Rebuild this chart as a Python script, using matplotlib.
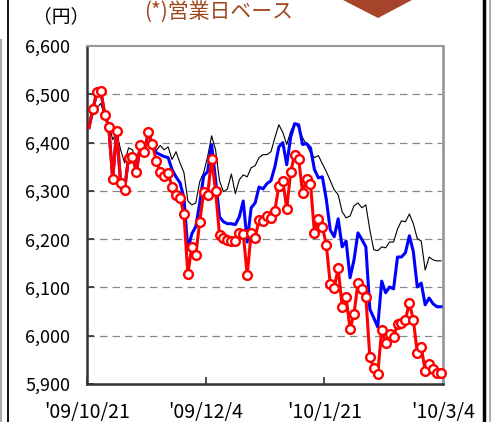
import matplotlib
matplotlib.use('Agg')
import matplotlib.pyplot as plt
from matplotlib.patches import Polygon
from matplotlib.lines import Line2D
from matplotlib.ticker import FuncFormatter

plt.rcParams['font.family'] = ['Noto Sans CJK JP', 'DejaVu Sans']

# 営業日ベースの価格（円）
red_vals = [6431, 6470, 6504, 6506, 6458, 6433, 6325, 6425, 6317, 6302,
            6369, 6371, 6340, 6396, 6381, 6421, 6398, 6362, 6340, 6331,
            6336, 6309, 6292, 6286, 6252, 6128, 6184, 6167, 6236, 6298,
            6292, 6367, 6300, 6209, 6203, 6199, 6197, 6197, 6213, 6211,
            6126, 6213, 6203, 6240, 6238, 6248, 6244, 6259, 6311, 6321,
            6263, 6340, 6375, 6367, 6296, 6325, 6315, 6213, 6242, 6226,
            6188, 6107, 6099, 6140, 6060, 6080, 6014, 6045, 6109, 6097,
            6080, 5956, 5933, 5921, 6012, 5985, 6004, 5997, 6024, 6026,
            6033, 6068, 6033, 5964, 5977, 5927, 5941, 5931, 5923, 5923]

blue_vals = [6431, 6470, 6504, 6506, 6458, 6433, 6325, 6425, 6317, 6302,
             6369, 6371, 6340, 6396, 6381, 6421, 6398, 6379, 6375, 6371,
             6369, 6344, 6329, 6317, 6286, 6178, 6211, 6226, 6275, 6331,
             6340, 6396, 6323, 6246, 6236, 6232, 6232, 6230, 6246, 6279,
             6194, 6265, 6275, 6308, 6304, 6315, 6321, 6350, 6391, 6400,
             6354, 6412, 6439, 6437, 6396, 6398, 6389, 6344, 6327, 6329,
             6282, 6219, 6205, 6242, 6184, 6196, 6120, 6157, 6213, 6199,
             6184, 6055, 6037, 6018, 6113, 6089, 6101, 6097, 6163, 6163,
             6172, 6207, 6174, 6101, 6109, 6064, 6078, 6066, 6060, 6060]

black_vals = [6431, 6458, 6472, 6481, 6454, 6439, 6406, 6421, 6385, 6358,
              6389, 6385, 6360, 6394, 6387, 6421, 6400, 6383, 6394, 6385,
              6391, 6365, 6381, 6358, 6338, 6279, 6271, 6275, 6319, 6338,
              6371, 6414, 6385, 6321, 6298, 6304, 6335, 6294, 6323, 6333,
              6329, 6348, 6352, 6369, 6375, 6375, 6381, 6410, 6437, 6421,
              6396, 6423, 6441, 6431, 6410, 6396, 6379, 6369, 6373, 6356,
              6340, 6321, 6302, 6292, 6257, 6244, 6248, 6269, 6275, 6265,
              6271, 6219, 6178, 6176, 6184, 6182, 6194, 6194, 6221, 6238,
              6236, 6252, 6232, 6201, 6196, 6136, 6163, 6157, 6155, 6155]

date_labels = ["'09/10/21", "'09/12/4", "'10/1/21", "'10/3/4"]
date_pos = [-0.5, 29.5, 59.5, 89.5]
y_ticks = [5900, 6000, 6100, 6200, 6300, 6400, 6500, 6600]

fig = plt.figure(figsize=(4.91, 4.22), dpi=100)
ax = fig.add_axes([87 / 491, 1 - 384 / 422, 356 / 491, 338 / 422])

x = list(range(len(red_vals)))
ax.plot(x, black_vals, color='black', lw=0.8, zorder=3)
ax.plot(x, blue_vals, color='#0000FF', lw=2.2, zorder=4)
ax.plot(x, red_vals, color='#FF0000', lw=2.2, marker='o', ms=6.3,
        mfc='white', mec='#FF0000', mew=1.7, zorder=5, clip_on=False,
        markevery=list(range(1, len(red_vals))))

ax.set_xlim(-0.5, 89.5)
ax.set_ylim(5900, 6600)
ax.set_yticks(y_ticks)
ax.yaxis.set_major_formatter(FuncFormatter(lambda v, p: f'{int(v):,}'))
ax.set_xticks(date_pos)
ax.set_xticklabels(date_labels)

for v in y_ticks[1:-1]:
    ax.axhline(v, color='#888888', lw=0.9, ls=(0, (6, 4)), zorder=1)

ax.tick_params(axis='both', direction='in', length=5, width=1.2,
               colors='#333333', labelcolor='black')
ax.tick_params(axis='y', pad=12, labelsize=13)
ax.tick_params(axis='x', pad=13, labelsize=14)

ax.spines['left'].set_color('#333333')
ax.spines['left'].set_linewidth(1.8)
ax.spines['bottom'].set_color('#333333')
ax.spines['bottom'].set_linewidth(1.8)
ax.spines['top'].set_color('#999999')
ax.spines['top'].set_linewidth(1.5)
ax.spines['right'].set_color('#999999')
ax.spines['right'].set_linewidth(2)

# テキスト
fig.text(61 / 491, 1 - 17 / 422, '（円）', ha='center', va='center', fontsize=13.5)
fig.text(219 / 491, 1 - 12 / 422, '(*)営業日ベース', ha='center', va='center',
         fontsize=15, color='#A0461E')

# 右上の矢印（三角形）
tri = Polygon([[343 / 491, 1.0], [412 / 491, 1.0], [378 / 491, 1 - 18 / 422]],
              closed=True, transform=fig.transFigure, facecolor='#A5442A',
              edgecolor='none')
fig.patches.append(tri)

# 外枠の線
fig.lines.append(Line2D([7.5 / 491, 7.5 / 491], [0, 1], transform=fig.transFigure,
                        color='black', lw=1.3))
fig.lines.append(Line2D([1 / 491, 1 / 491], [0, 1 - 40 / 422], transform=fig.transFigure,
                        color='#AAAAAA', lw=1.5))
fig.lines.append(Line2D([484 / 491, 484 / 491], [0, 1], transform=fig.transFigure,
                        color='black', lw=2.5))
fig.lines.append(Line2D([489.5 / 491, 489.5 / 491], [0, 1], transform=fig.transFigure,
                        color='#AAAAAA', lw=2))

fig.savefig('out.png', dpi=100)
